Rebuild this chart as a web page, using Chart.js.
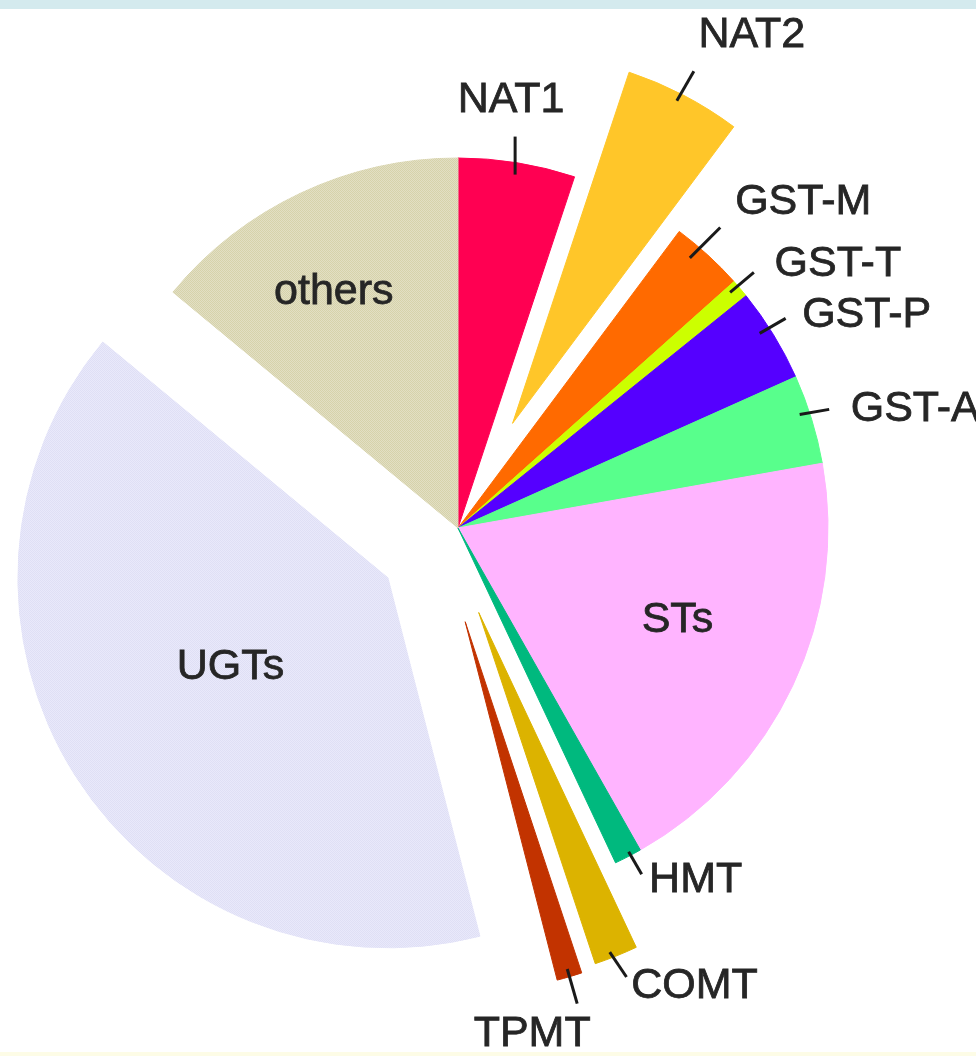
<!DOCTYPE html>
<html>
<head>
<meta charset="utf-8">
<title>Phase II drug-metabolising enzymes</title>
<script src="https://cdn.jsdelivr.net/npm/chart.js@4.4.1/dist/chart.umd.min.js"></script>
<style>
  html, body { margin: 0; padding: 0; background: #fff; }
  #wrap { position: relative; width: 976px; height: 1056px; overflow: hidden; }
  #topBand { position: absolute; left: 0; top: 0; width: 100%; height: 9px; background: #d4eaee; }
  #bottomBand { position: absolute; left: 0; bottom: 0; width: 100%; height: 4px; background: #fdfce6; }
</style>
</head>
<body>
<div id="wrap">
  <canvas id="pie"></canvas>
  <div id="topBand"></div>
  <div id="bottomBand"></div>
</div>
<script>
// slices, clockwise from 12 o'clock
const labels = ['NAT1', 'NAT2', 'GST-M', 'GST-T', 'GST-P', 'GST-A', 'STs', 'HMT', 'COMT', 'TPMT', 'UGTs', 'others'];
const shares = [5.1, 5.1, 3.2, 0.8, 4.1, 3.9, 19.6, 1.2, 1.9, 1.1, 40.0, 14.0];

const canvas = document.getElementById('pie');
const ctx = canvas.getContext('2d');

// fine dotted fill used for the two big pale slices
function dots(base, dot) {
    const c = document.createElement('canvas');
    c.width = 2;
    c.height = 2;
    const g = c.getContext('2d');
    g.fillStyle = base;
    g.fillRect(0, 0, 2, 2);
    g.fillStyle = dot;
    g.fillRect(0, 0, 1, 1);
    g.fillRect(1, 1, 1, 1);
    return ctx.createPattern(c, 'repeat');
}

const colors = [
    '#ff0052', '#ffc629', '#ff6a00', '#ccff00', '#5500ff', '#58ff8c',
    '#ffb4ff', '#00b97e', '#dcb300', '#c23300',
    dots('#e9e9fb', '#dfdff5'),
    dots('#e2dfc4', '#d6d2aa')
];

// how far each slice is pulled out of the pie (px), and how much the pull
// direction is turned away from the slice's middle (degrees)
const explode = [0, 118, 0, 0, 0, 0, 0, 0, 87, 94, 86, 0];
const explodeTurn = [0, 0, 0, 0, 0, 0, 0, 0, 8, 12, -3, 0];

// outer labels: slice index, position along the slice, leader line and text offset
const outerLabels = [
    { i: 0, f: 0.5, rIn: 12, dir: 0, len: 38, dx: -4, dy: -36 },
    { i: 1, f: 0.47, rIn: 8, dir: 30, len: 34, dx: 58, dy: -36 },
    { i: 2, f: 0.34, rIn: 14, dir: 45, len: 43, dx: 83, dy: -25 },
    { i: 3, f: 0.3, rIn: 10, dir: 50, len: 31, dx: 84, dy: -8 },
    { i: 4, f: 0.41, rIn: 11, dir: 60, len: 30, dx: 81, dy: -3 },
    { i: 5, f: 0.41, rIn: 10, dir: 80, len: 30, dx: 86, dy: 0 },
    { i: 7, f: 0.4, rIn: 4, dir: 150, len: 26, dx: 54, dy: 6 },
    { i: 8, f: 0.6, rIn: 6, dir: 146, len: 30, dx: 68, dy: 9 },
    { i: 9, f: 0.5, rIn: 8, dir: 164, len: 36, dx: -45, dy: 31 }
];
// labels written inside their slice
const innerLabels = [
    { i: 6, f: 0.465, r: 238 },
    { i: 10, f: 0.52, r: 181 },
    { i: 11, f: 0.45, r: 267 }
];

const explodePlugin = {
    id: 'explode',
    afterDatasetsUpdate(chart) {
        chart.getDatasetMeta(0).data.forEach((arc, i) => {
            const d = explode[i];
            if (!d) return;
            const dir = (arc.startAngle + arc.endAngle) / 2 + explodeTurn[i] * Math.PI / 180;
            arc.x += Math.cos(dir) * d;
            arc.y += Math.sin(dir) * d;
        });
    }
};

const labelPlugin = {
    id: 'sliceLabels',
    afterDatasetsDraw(chart) {
        const c = chart.ctx;
        const arcs = chart.getDatasetMeta(0).data;
        c.save();
        c.font = '43px "Liberation Sans", Arial, sans-serif';
        c.fillStyle = '#262626';
        c.textAlign = 'center';
        c.textBaseline = 'middle';

        // text drawn with a hairline outline so it reads as heavy as the original
        const write = (txt, x, y) => {
            c.lineWidth = 0.8;
            c.strokeStyle = '#262626';
            c.fillText(txt, x, y);
            c.strokeText(txt, x, y);
        };

        outerLabels.forEach(l => {
            const arc = arcs[l.i];
            const a = arc.startAngle + l.f * (arc.endAngle - arc.startAngle);
            const r = arc.outerRadius - l.rIn;
            const x0 = arc.x + Math.cos(a) * r;
            const y0 = arc.y + Math.sin(a) * r;
            const d = (l.dir - 90) * Math.PI / 180;
            const x1 = x0 + Math.cos(d) * l.len;
            const y1 = y0 + Math.sin(d) * l.len;
            c.beginPath();
            c.lineWidth = 3;
            c.strokeStyle = '#1a1a1a';
            c.moveTo(x0, y0);
            c.lineTo(x1, y1);
            c.stroke();
            write(labels[l.i], x1 + l.dx, y1 + l.dy);
        });

        innerLabels.forEach(l => {
            const arc = arcs[l.i];
            const a = arc.startAngle + l.f * (arc.endAngle - arc.startAngle);
            write(labels[l.i], arc.x + Math.cos(a) * l.r, arc.y + Math.sin(a) * l.r);
        });
        c.restore();
    }
};

new Chart(ctx, {
    type: 'pie',
    data: {
        labels: labels,
        datasets: [{
            data: shares,
            backgroundColor: colors,
            borderColor: colors,
            borderWidth: 1,
            radius: 370
        }]
    },
    options: {
        responsive: true,
        maintainAspectRatio: false,
        animation: false,
        layout: { padding: { left: 0, right: 60, top: 0, bottom: 0 } },
        plugins: {
            legend: { display: false },
            tooltip: { enabled: false }
        }
    },
    plugins: [explodePlugin, labelPlugin]
});
</script>
</body>
</html>
